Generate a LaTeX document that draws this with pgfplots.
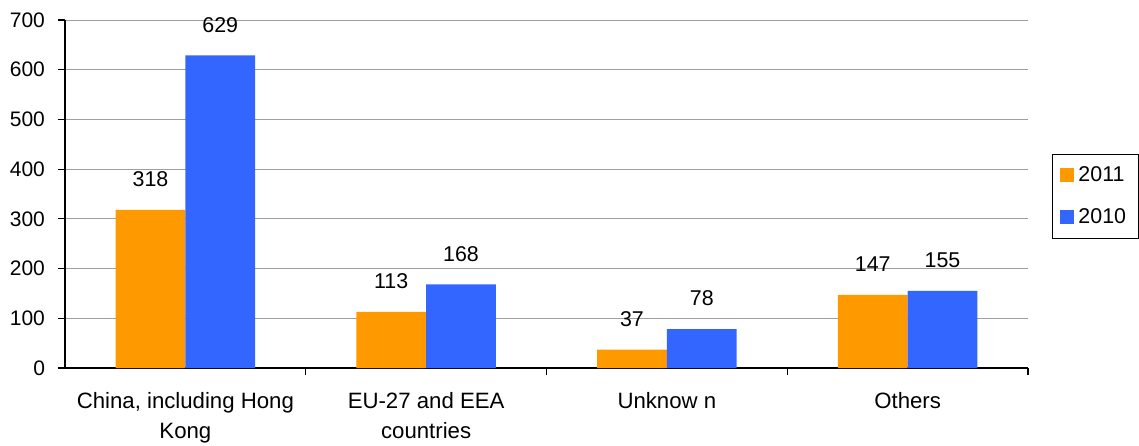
\documentclass[border=0pt]{standalone}
\usepackage{pgfplots}
\pgfplotsset{compat=1.18}
\usepackage{fontspec}
\setmainfont{Liberation Sans}
\definecolor{c2011}{HTML}{FF9900}
\definecolor{c2010}{HTML}{3366FF}
\begin{document}
\begin{tikzpicture}
\begin{axis}[
    name=main,
    scale only axis,
    width=481.5pt, height=174pt,
    ybar=0pt,
    bar width=0.29,
    xmin=-0.5, xmax=3.5,
    ymin=0, ymax=700,
    ytick={0,100,...,700},
    xtick={0,1,2,3},
    xticklabels={{China, including Hong\\Kong},{EU-27 and EEA\\countries},{Unknow n},{Others}},
    minor xtick={0.5,1.5,2.5,3.5},
    axis x line*=bottom,
    axis y line*=left,
    axis line style={-, black, line width=0.6pt},
    ymajorgrids=true,
    grid style={gray!75, line width=0.5pt},
    tick align=outside,
    major tick length=3.5pt,
    minor tick length=3.5pt,
    x tick style={draw=none},
    minor x tick style={draw=black, line width=0.6pt},
    y tick style={black, line width=0.6pt},
    tick label style={font=\fontsize{10.5}{15}\selectfont},
    /pgf/number format/assume math mode=true,
    xticklabel style={align=center, yshift=-5pt, font=\fontsize{11.1}{15}\selectfont},
    yticklabel style={xshift=-3pt},
    nodes near coords,
    every node near coord/.append style={font=\fontsize{10.7}{15}\selectfont, yshift=8pt},
    legend style={at={(1.025,0.615)}, anchor=north west, draw=black,
        font=\fontsize{10.7}{15}\selectfont, row sep=8pt,
        inner xsep=4pt, inner ysep=4pt},
    legend cell align=left,
    legend image code/.code={\fill[#1] (0pt,-3.5pt) rectangle (7pt,3.5pt);},
]
\addplot[fill=c2011, draw=none] coordinates {(0,318) (1,113) (2,37) (3,147)};
\addlegendentry{2011}
\addplot[fill=c2010, draw=none] coordinates {(0,629) (1,168) (2,78) (3,155)};
\addlegendentry{2010}
\end{axis}
\pgfresetboundingbox
\path[use as bounding box] (-32.5pt,-38.5pt) rectangle (537pt,184pt);
\end{tikzpicture}
\end{document}
